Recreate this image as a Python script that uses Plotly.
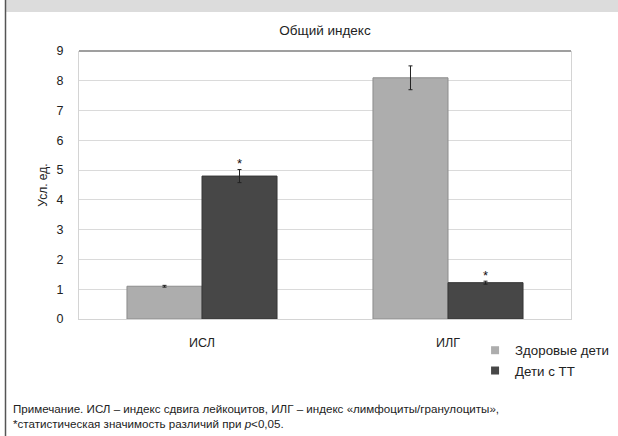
import plotly.graph_objects as go

categories = ["ИСЛ", "ИЛГ"]
healthy_vals = [1.1, 8.1]
healthy_err = [0.03, 0.4]
tt_vals = [4.8, 1.22]
tt_err = [0.22, 0.05]
tt_signif = ["*", "*"]
series_names = ["Здоровые дети", "Дети с ТТ"]
y_ticks = [0, 1, 2, 3, 4, 5, 6, 7, 8, 9]

FONT = "Liberation Sans, Arial, Helvetica, sans-serif"
C_H = "#adadad"
C_T = "#474747"

fig = go.Figure()
fig.add_trace(go.Bar(
    x=categories, y=healthy_vals, name=series_names[0], showlegend=False,
    offsetgroup="h",
    marker=dict(color=C_H, line=dict(color="#8c8c8c", width=1)),
    error_y=dict(type="data", array=healthy_err, color="#222222", thickness=1, width=2),
))
fig.add_trace(go.Bar(
    x=categories, y=tt_vals, name=series_names[1], showlegend=False,
    offsetgroup="tt",
    marker=dict(color=C_T, line=dict(color="#363636", width=1)),
    error_y=dict(type="data", array=tt_err, color="#222222", thickness=1, width=2),
))
# significance marks above the TT bars
fig.add_trace(go.Scatter(
    x=categories, y=[v + e + 0.16 for v, e in zip(tt_vals, tt_err)],
    mode="text", text=tt_signif, textposition="middle center",
    textfont=dict(family=FONT, size=13, color="#111111"),
    offsetgroup="tt", showlegend=False, hoverinfo="skip",
))
# legend entries with small square swatches
for name, col in zip(series_names, [C_H, C_T]):
    fig.add_trace(go.Scatter(
        x=[None], y=[None], mode="markers", name=name, offsetgroup="h",
        marker=dict(symbol="square", size=8, color=col),
    ))

fig.update_layout(
    width=618, height=436,
    margin=dict(l=79, r=47, t=51, b=117, autoexpand=False),
    paper_bgcolor="white", plot_bgcolor="white",
    barmode="group", bargap=0.39, bargroupgap=0,
    scattermode="group",
    font=dict(family=FONT, size=12, color="#222222"),
    title=dict(text="Общий индекс", x=0.5, xref="paper", xanchor="center",
               y=1 - 30 / 436, yanchor="middle",
               font=dict(family=FONT, size=13.5, color="#222222")),
    legend=dict(x=0.805, xanchor="left", y=-0.06, yanchor="top",
                font=dict(family=FONT, size=13.3, color="#222222"),
                itemwidth=30, tracegroupgap=0, bgcolor="rgba(0,0,0,0)"),
    showlegend=True,
)
fig.update_xaxes(
    showgrid=False, showline=True, linecolor="#d4d4d4", linewidth=1,
    ticks="", ticklabelstandoff=12,
    tickfont=dict(family=FONT, size=12.5, color="#222222"),
)
fig.update_yaxes(
    range=[0, 9], tickvals=y_ticks, showgrid=True, gridcolor="#dadada", gridwidth=1,
    showline=True, mirror=True, linecolor="#d4d4d4", linewidth=1,
    zeroline=False, ticks="", ticklabelstandoff=12,
    tickfont=dict(family=FONT, size=12.5, color="#222222"),
    title=dict(text="Усл. ед.", standoff=6, font=dict(family=FONT, size=12, color="#222222")),
)

shapes = [
    # darker top border of plot area
    dict(type="line", xref="paper", yref="paper", x0=0, x1=1, y0=1, y1=1,
         line=dict(color="#7f7f7f", width=1.5)),
    # header band
    dict(type="rect", xref="paper", yref="paper", xsizemode="pixel", ysizemode="pixel",
         xanchor=0, yanchor=1, x0=-73, x1=600, y0=39, y1=70,
         fillcolor="#dcdcdc", line=dict(width=0), layer="below"),
    # left page border
    dict(type="line", xref="paper", yref="paper", xsizemode="pixel", ysizemode="pixel",
         xanchor=0, yanchor=0, x0=-73.5, x1=-73.5, y0=-130, y1=400,
         line=dict(color="#555555", width=1.5)),
]
fig.update_layout(shapes=shapes)

fig.add_annotation(
    xref="paper", yref="paper", x=(11 - 79) / 492, y=(318 - 399) / 267,
    xanchor="left", yanchor="top", align="left", showarrow=False,
    text="Примечание. ИСЛ – индекс сдвига лейкоцитов, ИЛГ – индекс «лимфоциты/гранулоциты»,"
         "<br>*статистическая значимость различий при <i>p</i>&lt;0,05.",
    font=dict(family=FONT, size=11.6, color="#222222"),
)

fig.write_html("out.html")
